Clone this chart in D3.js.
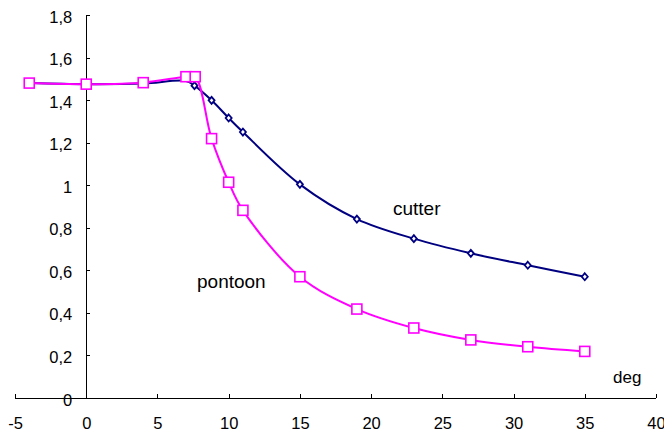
<!DOCTYPE html>
<html>
<head>
<meta charset="utf-8">
<script src="https://cdn.jsdelivr.net/npm/d3@7"></script>
<style>
  html, body { margin: 0; padding: 0; background: #fff; }
  svg { display: block; font-family: "Liberation Sans", Arial, sans-serif; }
</style>
</head>
<body>
<svg id="chart" width="664" height="434"></svg>
<script>
// ---- data ----
const cutterX = [-4, 0, 4, 7, 7.6, 8.8, 10, 11, 15, 19, 23, 27, 31, 35];
const cutterY = [1.48, 1.475, 1.478, 1.49, 1.468, 1.399, 1.316, 1.25, 1.004, 0.841, 0.749, 0.68, 0.624, 0.57];
const cutterMarkersFrom = 4; // markers shown from this index onward (earlier ones hidden under pontoon)

const pontoonX = [-4, 0, 4, 7, 7.65, 8.8, 10, 11, 15, 19, 23, 27, 31, 35];
const pontoonY = [1.48, 1.475, 1.482, 1.51, 1.51, 1.219, 1.014, 0.882, 0.570, 0.418, 0.329, 0.273, 0.241, 0.219];

const xTicks = [-5, 0, 5, 10, 15, 20, 25, 30, 35, 40];
const yTicks = [0, 0.2, 0.4, 0.6, 0.8, 1, 1.2, 1.4, 1.6, 1.8];
const yTickLabels = ["0", "0,2", "0,4", "0,6", "0,8", "1", "1,2", "1,4", "1,6", "1,8"];

// ---- layout ----
const svg = d3.select("#chart");
const x = d3.scaleLinear().domain([-5, 40]).range([15, 656]);
const y = d3.scaleLinear().domain([0, 1.8]).range([398, 15]);

// x axis
const xAxis = d3.axisBottom(x).tickValues(xTicks).tickSize(-4).tickPadding(0).tickFormat(d => d);
const gx = svg.append("g").attr("transform", `translate(0,${y(0)})`).call(xAxis);
gx.select(".domain").attr("stroke", "#000").attr("d", `M${x(-5)},0H${x(40)}`);
gx.selectAll(".tick line").attr("stroke", "#000");
gx.selectAll(".tick text").attr("font-size", 16.5).attr("fill", "#000")
  .attr("dy", null).attr("y", 31).attr("font-family", "Liberation Sans, Arial, sans-serif");

// y axis
const yAxis = d3.axisLeft(y).tickValues(yTicks).tickSize(-4).tickPadding(0)
  .tickFormat((d, i) => yTickLabels[i]);
const gy = svg.append("g").attr("transform", `translate(${x(0)},0)`).call(yAxis);
gy.select(".domain").attr("stroke", "#000").attr("d", `M0,${y(1.8)}V${y(0)}`);
gy.selectAll(".tick line").attr("stroke", "#000");
gy.selectAll(".tick text").attr("font-size", 16.5).attr("fill", "#000")
  .attr("x", -14).attr("dy", null).attr("y", 7).attr("font-family", "Liberation Sans, Arial, sans-serif");

svg.selectAll(".domain, .tick line").attr("shape-rendering", "crispEdges");

const line = d3.line().x(d => x(d[0])).y(d => y(d[1])).curve(d3.curveCatmullRom.alpha(0.5));

const cutter = cutterX.map((v, i) => [v, cutterY[i]]);
const pontoon = pontoonX.map((v, i) => [v, pontoonY[i]]);

// cutter
svg.append("path").datum(cutter).attr("d", line)
  .attr("fill", "none").attr("stroke", "#000080").attr("stroke-width", 2);
svg.append("g").selectAll("path").data(cutter.slice(cutterMarkersFrom)).join("path")
  .attr("transform", d => `translate(${x(d[0])},${y(d[1])})`)
  .attr("d", "M0,-3.5L3,0L0,3.5L-3,0Z")
  .attr("fill", "#fff").attr("stroke", "#000080").attr("stroke-width", 1.8);

// pontoon
svg.append("path").datum(pontoon).attr("d", line)
  .attr("fill", "none").attr("stroke", "#ff00ff").attr("stroke-width", 2);
svg.append("g").selectAll("rect").data(pontoon).join("rect")
  .attr("x", d => x(d[0]) - 5).attr("y", d => y(d[1]) - 5)
  .attr("width", 10).attr("height", 10)
  .attr("fill", "#fff").attr("stroke", "#ff00ff").attr("stroke-width", 1.6);

// labels
svg.append("text").attr("x", 393).attr("y", 215).attr("font-size", 19).text("cutter");
svg.append("text").attr("x", 197).attr("y", 288).attr("font-size", 19).text("pontoon");
svg.append("text").attr("x", 613).attr("y", 383).attr("font-size", 17).text("deg");
</script>
</body>
</html>
